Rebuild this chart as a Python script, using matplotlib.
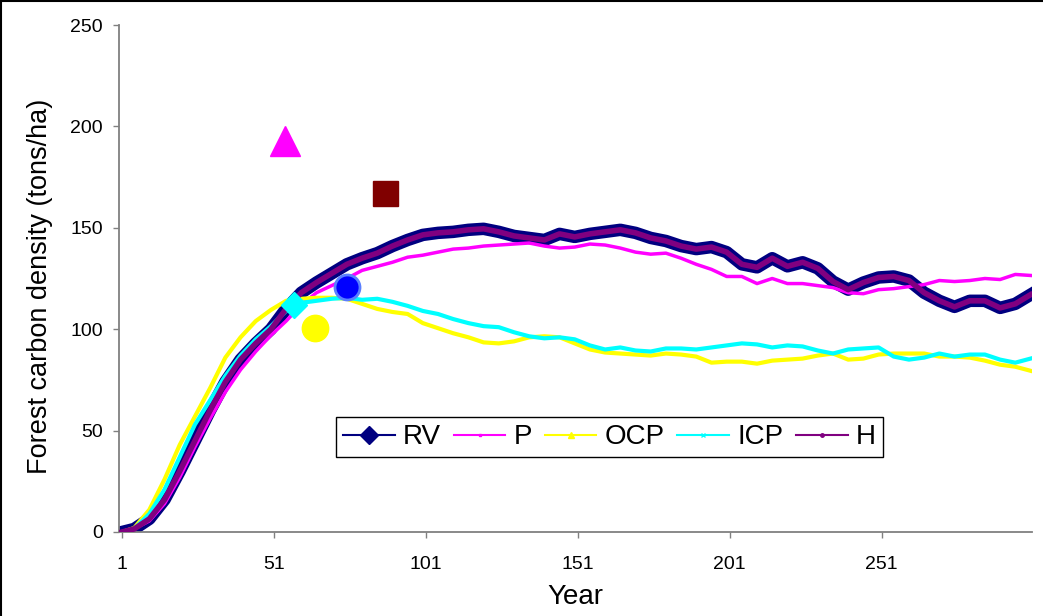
# Forest carbon density over 300 years, five scenarios + single reference points
import matplotlib.pyplot as plt
from matplotlib.lines import Line2D

years = [1, 5, 10, 15, 20, 25, 30, 35, 40, 45, 50, 55, 60, 65, 70, 75, 80, 85, 90, 95,
         100, 105, 110, 115, 120, 125, 130, 135, 140, 145, 150, 155, 160, 165, 170, 175,
         180, 185, 190, 195, 200, 205, 210, 215, 220, 225, 230, 235, 240, 245, 250, 255,
         260, 265, 270, 275, 280, 285, 290, 295, 300]

rv = [0, 1.5, 6.5, 16, 30, 45, 60, 74, 85, 93, 100, 110, 118, 123, 127.5, 132, 135, 137.5, 141, 144,
      146.5, 147.5, 148, 149, 149.5, 148, 146, 145, 144, 147, 145.5, 147, 148, 149, 147.5, 145,
      143.5, 141, 139.5, 140.5, 138, 132, 130.5, 135, 131, 133, 130, 123.5, 119.5, 123, 125.5, 126,
      124, 118, 114, 111, 114, 114, 110.5, 112.5, 117]

p = [0, 1.5, 5.5, 14, 27, 42, 56, 69, 80, 89, 97, 104, 112, 118, 121.5, 125, 129, 131, 133, 135.5,
     136.5, 138, 139.5, 140, 141, 141.5, 142, 142.5, 141, 140, 140.5, 142, 141.5, 140, 138, 137,
     137.5, 135, 132, 129.5, 126, 126, 122.5, 125, 122.5, 122.5, 121.5, 120.5, 118, 117.5, 119.5, 120,
     121, 122, 124, 123.5, 124, 125, 124.5, 127, 126.5]

ocp = [0, 2, 11, 26, 43, 57, 71, 86, 96, 104, 109.5, 114, 115, 115.5, 115.5, 115, 112.5, 110, 108.5, 107.5,
       103, 100.5, 98, 96, 93.5, 93, 94, 96, 96.5, 96, 93, 90, 88.5, 88, 87.5, 87,
       88, 87.5, 86.5, 83.5, 84, 84, 83, 84.5, 85, 85.5, 87, 88, 85, 85.5, 87.5, 88,
       88, 88, 86.5, 86.5, 86, 84.5, 82.5, 81.5, 79.5]

icp = [0, 1.5, 9, 21, 37, 53, 65, 77, 87, 95, 101.5, 109, 113, 114, 115, 115.5, 114.5, 115, 113.5, 111.5,
       109, 107.5, 105, 103, 101.5, 101, 98.5, 96.5, 95.5, 96, 95, 92, 90, 91, 89.5, 89,
       90.5, 90.5, 90, 91, 92, 93, 92.5, 91, 92, 91.5, 89.5, 88, 90, 90.5, 91, 86.5,
       85, 86, 88, 86.5, 87.5, 87.5, 85, 83.5, 85.5]

h = [0, 1.5, 6.5, 16, 30, 45, 60, 74, 85, 93, 100, 110, 118, 123, 127.5, 132, 135, 137.5, 141, 144,
     146.5, 147.5, 148, 149, 149.5, 148, 146, 145, 144, 147, 145.5, 147, 148, 149, 147.5, 145,
     143.5, 141, 139.5, 140.5, 138, 132, 130.5, 135, 131, 133, 130, 123.5, 119.5, 123, 125.5, 126,
     124, 118, 114, 111, 114, 114, 110.5, 112.5, 117]

# single points
point_years = [54.5, 87.5, 75, 64.5, 57.5]
point_values = [193, 167, 121, 100.5, 112]

x_ticks = [1, 51, 101, 151, 201, 251]
y_ticks = [0, 50, 100, 150, 200, 250]
series_names = ["RV", "P", "OCP", "ICP", "H"]

FONT = "Liberation Sans"

fig = plt.figure(figsize=(10.43, 6.16), dpi=100)
ax = fig.add_axes([119 / 1043, 1 - 532 / 616, 913 / 1043, 507 / 616])

ax.plot(years, rv, color="#000080", lw=9, solid_joinstyle="round", zorder=2)
ax.plot(years, p, color="#FF00FF", lw=2.5, zorder=3)
ax.plot(years, ocp, color="#FFFF00", lw=3, zorder=3)
ax.plot(years, icp, color="#00FFFF", lw=3, zorder=4)
ax.plot(years, h, color="#800080", lw=4, zorder=5)

# the lone markers
ax.plot(point_years[0], point_values[0], "^", color="#FF00FF", ms=21, zorder=6, clip_on=False)
ax.plot(point_years[1], point_values[1], "s", color="#800000", ms=18, zorder=6)
ax.plot(point_years[2], point_values[2], "o", color="#0000FF", mec="#5A7FFF", mew=2, ms=18, zorder=6)
ax.plot(point_years[3], point_values[3], "o", color="#FFFF00", ms=19, zorder=6)
ax.plot(point_years[4], point_values[4], "D", color="#00FFFF", ms=13, zorder=6)

ax.set_xlim(0, 300.5)
ax.set_ylim(0, 250)
ax.set_xticks(x_ticks)
ax.set_yticks(y_ticks)
ax.set_xticklabels([str(t) for t in x_ticks], family=FONT, fontsize=14)
ax.set_yticklabels([str(t) for t in y_ticks], family=FONT, fontsize=14)
ax.tick_params(direction="out", length=4.5, width=1, color="#808080")
ax.tick_params(axis="x", pad=13)
ax.tick_params(axis="y", pad=7)

for side in ["top", "right"]:
    ax.spines[side].set_visible(False)
for side in ["left", "bottom"]:
    ax.spines[side].set_color("#808080")
    ax.spines[side].set_linewidth(1.3)

ax.set_xlabel("Year", family=FONT, fontsize=20, labelpad=8)
ax.set_ylabel("Forest carbon density (tons/ha)", family=FONT, fontsize=19.5)
ax.yaxis.set_label_coords(-0.072, 0.485)

handles = [
    Line2D([], [], color="#000080", lw=1.5, marker="D", ms=9),
    Line2D([], [], color="#FF00FF", lw=1.5, marker="s", ms=2),
    Line2D([], [], color="#FFFF00", lw=1.5, marker="^", ms=4),
    Line2D([], [], color="#00FFFF", lw=1.5, marker="x", ms=3),
    Line2D([], [], color="#800080", lw=1.5, marker="o", ms=2.5),
]
leg = ax.legend(handles, series_names, loc="upper left", bbox_to_anchor=(0.238, 0.226),
                ncol=5, frameon=True, fancybox=False, edgecolor="black", framealpha=1,
                prop={"family": FONT, "size": 20}, handlelength=1.86,
                handletextpad=0.3, columnspacing=0.45, borderpad=0.25, borderaxespad=0)
leg.get_frame().set_linewidth(1)

# chart-area border (left and top visible)
fig.add_artist(Line2D([0.001, 0.001], [0, 1], color="black", lw=1.5, transform=fig.transFigure))
fig.add_artist(Line2D([0, 1], [0.999, 0.999], color="black", lw=1.5, transform=fig.transFigure))

fig.savefig("out.png", dpi=100)
